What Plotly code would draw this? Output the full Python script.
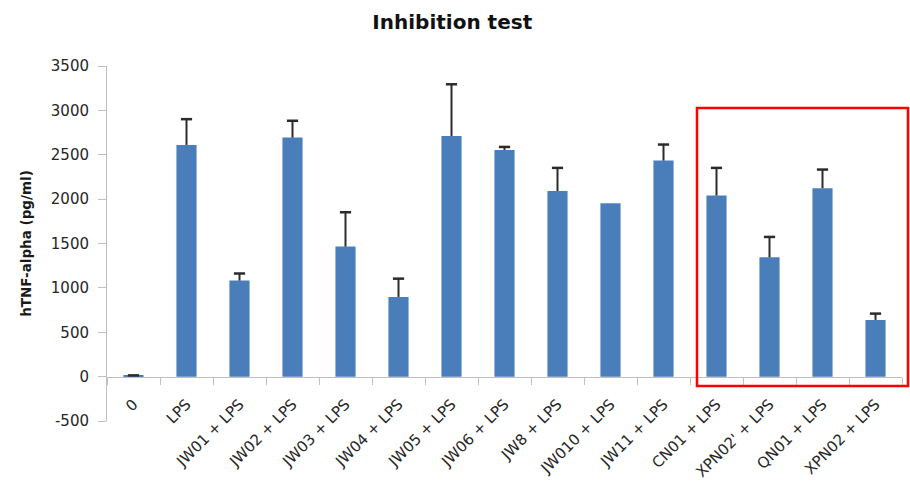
import plotly.graph_objects as go

categories = ["0", "LPS", "JW01 + LPS", "JW02 + LPS", "JW03 + LPS", "JW04 + LPS",
              "JW05 + LPS", "JW06 + LPS", "JW8 + LPS", "JW010 + LPS", "JW11 + LPS",
              "CN01 + LPS", "XPN02' + LPS", "QN01 + LPS", "XPN02 + LPS"]
values = [8, 2611, 1082, 2693, 1465, 898, 2712, 2554, 2092, 1953, 2434, 2040, 1345, 2123, 639]
errors = [6, 290, 80, 190, 387, 206, 582, 34, 260, 0, 181, 312, 229, 210, 71]
y_ticks = [-500, 0, 500, 1000, 1500, 2000, 2500, 3000, 3500]

FONT = "DejaVu Sans"
W, H = 910, 484
ML, MR, MT, MB = 107, 8, 66, 63
YMIN, YMAX = -500, 3500
ERR_COLOR = "#2b2b2b"

fig = go.Figure()
fig.add_trace(go.Bar(
    x=categories, y=values,
    marker=dict(color="#4A7EBB", line=dict(width=0)),
    width=0.38,
    error_y=dict(type="data", array=errors, arrayminus=[0] * len(errors),
                 symmetric=False, color=ERR_COLOR, thickness=2, width=0),
))
# caps on top of error bars only
cap_y = [v + e if e > 0 else None for v, e in zip(values, errors)]
fig.add_trace(go.Scatter(
    x=categories, y=cap_y, mode="markers",
    marker=dict(symbol="line-ew", size=8, line=dict(color=ERR_COLOR, width=2.5)),
    hoverinfo="skip",
))

# red highlight rectangle (paper coordinates derived from pixel layout)
pw = W - ML - MR
ph = H - MT - MB
def px_to_paper_x(px):
    return (px - ML) / pw
def px_to_paper_y(py):
    return (H - MB - py) / ph

fig.add_shape(type="rect", xref="paper", yref="paper",
              x0=px_to_paper_x(697), x1=px_to_paper_x(908),
              y0=px_to_paper_y(386), y1=px_to_paper_y(108),
              line=dict(color="#FF0000", width=2.5), layer="above")

fig.update_layout(
    width=W, height=H,
    margin=dict(l=ML, r=MR, t=MT, b=MB, autoexpand=False),
    paper_bgcolor="white", plot_bgcolor="white",
    showlegend=False,
    font=dict(family=FONT, color="#262626", size=14),
    title=dict(text="<b>Inhibition test</b>", x=0.497, xanchor="center",
               y=1 - 22 / H, yanchor="middle",
               font=dict(family=FONT, size=20, color="#111111")),
    xaxis=dict(
        type="category", range=[-0.5, len(categories) - 0.5],
        anchor="free", position=(0 - YMIN) / (YMAX - YMIN),
        showline=True, linecolor="#BFBFBF", linewidth=1,
        ticks="outside", tickson="boundaries", ticklen=7, tickcolor="#BFBFBF",
        ticklabelstandoff=12,
        tickangle=-45, showgrid=False, zeroline=False,
        tickfont=dict(family=FONT, size=15, color="#262626"),
    ),
    yaxis=dict(
        range=[YMIN, YMAX], tickvals=y_ticks, ticktext=[str(t) for t in y_ticks],
        showline=True, linecolor="#BFBFBF", linewidth=1,
        ticks="outside", ticklen=8, tickcolor="#BFBFBF",
        ticklabelstandoff=6,
        showgrid=False, zeroline=False,
        tickfont=dict(family=FONT, size=15, color="#262626"),
        title=dict(text="<b>hTNF-alpha (pg/ml)</b>", standoff=16,
                   font=dict(family=FONT, size=13.5, color="#1a1a1a")),
    ),
)

fig.write_html("out.html")
